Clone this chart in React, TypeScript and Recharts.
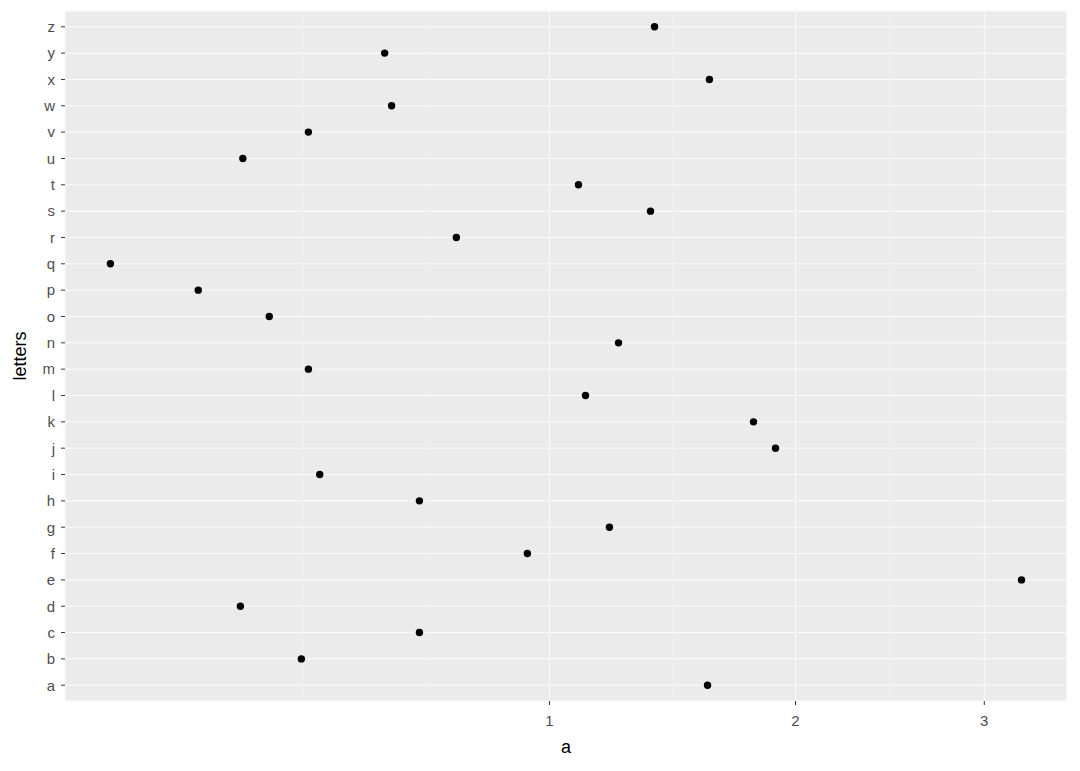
import React from "react";
import { ScatterChart, Scatter, XAxis, YAxis, CartesianGrid, ReferenceLine } from "recharts";

const letters = ["a","b","c","d","e","f","g","h","i","j","k","l","m","n","o","p","q","r","s","t","u","v","w","x","y","z"];
const values = [1.603,0.339,0.610,0.230,3.221,0.927,1.212,0.610,0.376,1.906,1.805,1.125,0.353,1.246,0.279,0.167,0.068,0.711,1.369,1.100,0.234,0.353,0.539,1.611,0.522,1.385];
const xTicks = [1, 2, 3];
const minorBreaks = [0.3434, 0.629, 1.457, 2.474];
const xDomain = [0.03397, 3.5018];

const data = letters.map((l, i) => ({ letter: l, a: values[i] }));

const FONT = "'Liberation Sans', Arial, sans-serif";

export default function App() {
  return (
    <div style={{ position: "absolute", left: 0, top: 0, background: "#fff" }}>
      <ScatterChart width={1080} height={771} margin={{ top: 11, right: 13, bottom: 0, left: 0 }}>
        <CartesianGrid fill="#EBEBEB" stroke="#FAFAFA" strokeWidth={1.1} />
        {minorBreaks.map((m) => (
          <ReferenceLine key={m} x={m} stroke="#F5F5F5" strokeWidth={0.6} ifOverflow="hidden" />
        ))}
        <XAxis
          type="number"
          dataKey="a"
          scale="sqrt"
          domain={xDomain}
          ticks={xTicks}
          allowDataOverflow
          height={70}
          axisLine={false}
          tickSize={4}
          tickMargin={10}
          tickLine={{ stroke: "#333333", strokeWidth: 1 }}
          tick={{ fill: "#4D4D4D", fontSize: 15, fontFamily: FONT }}
          label={(props: any) => {
            const vb = props.viewBox;
            return (
              <text x={vb.x + vb.width / 2} y={vb.y + 52} textAnchor="middle" fontSize={18} fontFamily={FONT} fill="#000">
                a
              </text>
            );
          }}
        />
        <YAxis
          type="category"
          dataKey="letter"
          ticks={letters}
          allowDuplicatedCategory={false}
          width={65}
          padding={{ top: 2.6, bottom: 2.6 }}
          axisLine={false}
          tickSize={4}
          tickMargin={6}
          tickLine={{ stroke: "#333333", strokeWidth: 1 }}
          tick={{ fill: "#4D4D4D", fontSize: 15, fontFamily: FONT }}
          interval={0}
          label={(props: any) => {
            const vb = props.viewBox;
            const cx = 26;
            const cy = vb.y + vb.height / 2;
            return (
              <text x={cx} y={cy} textAnchor="middle" fontSize={18} fontFamily={FONT} fill="#000" transform={`rotate(-90 ${cx} ${cy})`}>
                letters
              </text>
            );
          }}
        />
        <Scatter data={data} fill="#000000" isAnimationActive={false} shape={(p: any) => <circle cx={p.cx} cy={p.cy} r={3.7} fill="#000" />} />
      </ScatterChart>
    </div>
  );
}
